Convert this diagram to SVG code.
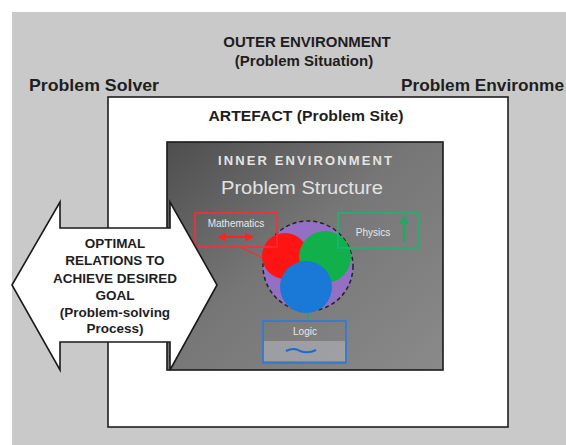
<svg xmlns="http://www.w3.org/2000/svg" width="566" height="445" viewBox="0 0 566 445">
<defs>
<linearGradient id="innerGrad" x1="0" y1="0" x2="1" y2="1">
<stop offset="0" stop-color="#4e4e4e"/>
<stop offset="0.45" stop-color="#767676"/>
<stop offset="1" stop-color="#8a8a8a"/>
</linearGradient>
<marker id="arrRed" viewBox="0 0 10 10" refX="8" refY="5" markerWidth="4" markerHeight="4" orient="auto-start-reverse"><path d="M0,0 L10,5 L0,10 z" fill="#ff2020"/></marker>
<marker id="arrGreen" viewBox="0 0 10 10" refX="8" refY="5" markerWidth="4" markerHeight="4" orient="auto"><path d="M0,0 L10,5 L0,10 z" fill="#12b060"/></marker>
<style>
.bold{font-family:"Liberation Sans",Arial,sans-serif;font-weight:bold;fill:#1e1e1e}
.reg{font-family:"Liberation Sans",Arial,sans-serif}
.small{font-family:"Liberation Sans",Arial,sans-serif;font-size:10px;fill:#e8e8e8}
</style>
</defs>
<rect x="0" y="0" width="566" height="445" fill="#ffffff"/>
<g id="outer-environment">
<rect x="12" y="12" width="554" height="433" fill="#c9c9c9"/>
<text class="bold" x="307" y="47" font-size="15" text-anchor="middle">OUTER ENVIRONMENT</text>
<text class="bold" x="304" y="66" font-size="15" text-anchor="middle">(Problem Situation)</text>
<text class="bold" x="29" y="91" font-size="17" textLength="130" lengthAdjust="spacingAndGlyphs">Problem Solver</text>
<text class="bold" x="401" y="91" font-size="17" textLength="163" lengthAdjust="spacingAndGlyphs">Problem Environme</text>
</g>
<g id="artefact">
<rect x="108" y="97" width="400" height="330" fill="#ffffff" stroke="#1e1e1e" stroke-width="1.6"/>
<text class="bold" x="306" y="121" font-size="15" text-anchor="middle" textLength="195" lengthAdjust="spacingAndGlyphs">ARTEFACT (Problem Site)</text>
</g>
<g id="inner-environment">
<rect x="167" y="142" width="276" height="228" fill="url(#innerGrad)" stroke="#1a1a1a" stroke-width="1.6"/>
<text class="reg" x="305" y="165" font-size="13" font-weight="bold" fill="#e4e4e4" text-anchor="middle" textLength="174" lengthAdjust="spacing">INNER ENVIRONMENT</text>
<text class="reg" x="302" y="194" font-size="19" fill="#e2e2e2" text-anchor="middle" textLength="162" lengthAdjust="spacingAndGlyphs">Problem Structure</text>
</g>
<g id="connectors">
<line x1="240" y1="247" x2="263" y2="258" stroke="#ff2a2a" stroke-width="1.2"/>
<line x1="338" y1="248" x2="352" y2="254" stroke="#14b065" stroke-width="1.2"/>
<line x1="308" y1="311" x2="308" y2="322" stroke="#14b065" stroke-width="1.2"/>
</g>
<g id="venn">
<circle cx="308" cy="266" r="45" fill="#9470c4" stroke="#222" stroke-width="1.5" stroke-dasharray="4,3"/>
<circle cx="285" cy="256" r="23" fill="#ff1414"/>
<circle cx="325" cy="257" r="26" fill="#12b04a"/>
<circle cx="306" cy="287" r="26" fill="#1a78d6"/>
</g>
<g id="mathematics">
<rect x="195" y="213" width="82" height="34" fill="none" stroke="#ff2a3a" stroke-width="1.6"/>
<text class="small" x="236" y="227" text-anchor="middle">Mathematics</text>
<line x1="219" y1="237" x2="252" y2="237" stroke="#ff2020" stroke-width="2.2" marker-start="url(#arrRed)" marker-end="url(#arrRed)"/>
</g>
<g id="physics">
<rect x="338" y="213" width="80" height="35" fill="none" stroke="#14b870" stroke-width="1.6"/>
<text class="small" x="373" y="236" text-anchor="middle">Physics</text>
<line x1="404" y1="242" x2="404" y2="217" stroke="#12b060" stroke-width="2.2" marker-end="url(#arrGreen)"/>
</g>
<g id="logic">
<rect x="263" y="321" width="83" height="42" fill="none" stroke="#2a7ae0" stroke-width="1.6"/>
<rect x="264" y="341" width="81" height="20" fill="#a9acb0" opacity="0.7"/>
<text class="small" x="305" y="335" text-anchor="middle">Logic</text>
<path d="M286,351 q8,-4 14,0 q8,3 16,-1" fill="none" stroke="#1a6ad0" stroke-width="2"/>
</g>
<g id="process-arrow">
<polygon points="12,285 60,202 60,228 170,228 170,202 217,285 170,370 170,342 60,342 60,370" fill="#ffffff" stroke="#1a1a1a" stroke-width="1.6" stroke-linejoin="miter"/>
<g class="bold" font-size="13.5" text-anchor="middle">
<text x="115" y="248">OPTIMAL</text>
<text x="115" y="265">RELATIONS TO</text>
<text x="115" y="283">ACHIEVE DESIRED</text>
<text x="115" y="300">GOAL</text>
<text x="115" y="317">(Problem-solving</text>
<text x="115" y="333">Process)</text>
</g>
</g>
</svg>
